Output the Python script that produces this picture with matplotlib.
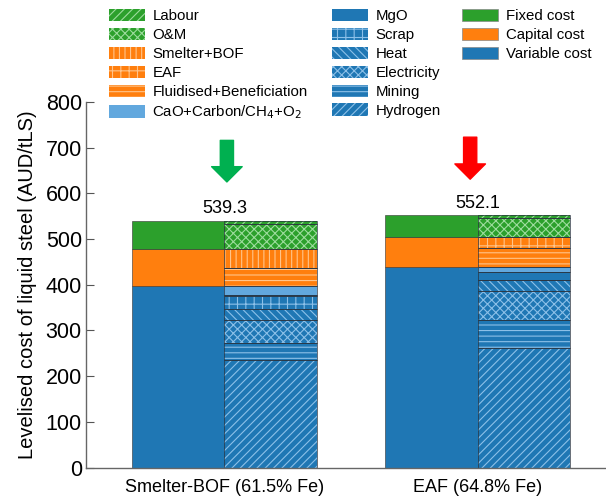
import matplotlib
matplotlib.use("Agg")
import matplotlib.pyplot as plt
from matplotlib.patches import Patch
import numpy as np

plt.rcParams['font.family'] = ['Liberation Sans', 'DejaVu Sans']
plt.rcParams['hatch.linewidth'] = 0.8

# ── Data ──
categories = ['Smelter-BOF (61.5% Fe)', 'EAF (64.8% Fe)']
totals = [539.3, 552.1]

# summary bar (left half of each group)
variable_cost = [397.0, 439.5]
capital_cost = [81.0, 64.0]
fixed_cost = [61.3, 48.6]

# breakdown bar (right half), bottom -> top
hydrogen = [235.0, 261.0]
mining = [37.0, 62.0]
electricity = [50.0, 62.5]
heat = [25.0, 24.0]
scrap = [28.0, 0.0]
mgo = [2.0, 19.0]
cao = [20.0, 11.0]
fluidised = [39.0, 40.0]
eaf = [0.0, 24.0]
smelter_bof = [42.0, 0.0]
om = [54.0, 42.0]
labour = [7.3, 6.6]

# arrows above each group: (x offset, tip, tail, colour)
arrows = [(0.01, 625, 716, '#00b050'), (-0.03, 631, 723, '#ff0000')]

# ── Styles ──
BLUE, ORANGE, GREEN, LBLUE = '#1f77b4', '#ff7f0e', '#2ca02c', '#62a8de'
HB, HO, HG = '#8cc0e8', '#ffc48a', '#9ddc9d'   # hatch colours

summary = [
    ('Variable cost', variable_cost, BLUE),
    ('Capital cost', capital_cost, ORANGE),
    ('Fixed cost', fixed_cost, GREEN),
]
breakdown = [
    ('Hydrogen', hydrogen, BLUE, '////', HB),
    ('Mining', mining, BLUE, '---', HB),
    ('Electricity', electricity, BLUE, 'xxxx', HB),
    ('Heat', heat, BLUE, '\\\\\\\\', HB),
    ('Scrap', scrap, BLUE, '++', HB),
    ('MgO', mgo, BLUE, '', HB),
    ('CaO+Carbon/CH$_4$+O$_2$', cao, LBLUE, '', HB),
    ('Fluidised+Beneficiation', fluidised, ORANGE, '---', HO),
    ('EAF', eaf, ORANGE, '++', HO),
    ('Smelter+BOF', smelter_bof, ORANGE, '|||', HO),
    ('O&M', om, GREEN, 'xxxx', HG),
    ('Labour', labour, GREEN, '////', HG),
]

fig = plt.figure(figsize=(6.06, 4.99), dpi=100)
ax = fig.add_axes([86 / 606, 1 - 467.5 / 499, 520 / 606, 365.5 / 499])

x = np.arange(len(categories))
w = 0.365

# summary bars
bottom = np.zeros(len(x))
for name, vals, col in summary:
    ax.bar(x - w / 2, vals, w, bottom=bottom, color=col,
           edgecolor='#333333', linewidth=0.4)
    bottom += np.array(vals)

# breakdown bars: hatched fill first, then thin dark outline
bottom = np.zeros(len(x))
for name, vals, col, hatch, hcol in breakdown:
    ax.bar(x + w / 2, vals, w, bottom=bottom, color=col, hatch=hatch,
           edgecolor=hcol, linewidth=0)
    ax.bar(x + w / 2, vals, w, bottom=bottom, fill=False,
           edgecolor='#2a3440', linewidth=0.5)
    bottom += np.array(vals)

# total labels
for xi, t in zip(x, totals):
    ax.text(xi, t + 8, f'{t:.1f}', ha='center', va='bottom', fontsize=13)

# arrows
arrow_style = 'simple,head_length=1.1,head_width=2.2,tail_width=0.95'
for xi, (dx, tip, tail, col) in zip(x, arrows):
    ax.annotate('', xy=(xi + dx, tip), xytext=(xi + dx, tail),
                arrowprops=dict(arrowstyle=arrow_style, color=col,
                                shrinkA=0, shrinkB=0, mutation_scale=10))

ax.set_xlim(-0.546, 1.506)
ax.set_ylim(0, 800)
ax.set_yticks(np.arange(0, 801, 100))
ax.set_xticks(x)
ax.set_xticklabels(categories, fontsize=13)
ax.tick_params(axis='x', length=0, pad=8)
ax.tick_params(axis='y', direction='in', length=6, labelsize=15.5, pad=3,
               color='#555555')
ax.set_ylabel('Levelised cost of liquid steel (AUD/tLS)', fontsize=14.5, labelpad=6)

for s in ['top', 'right']:
    ax.spines[s].set_visible(False)
for s in ['left', 'bottom']:
    ax.spines[s].set_color('#666666')
    ax.spines[s].set_linewidth(1.0)

# legends (three columns)
def handle(col, hatch, hcol):
    return Patch(facecolor=col, hatch=hatch, edgecolor=hcol, linewidth=0)

col1 = breakdown[6:][::-1]
col2 = breakdown[:6][::-1]
leg_kw = dict(frameon=False, fontsize=10.8, handlelength=2.4, handleheight=0.9,
              handletextpad=0.5, labelspacing=0.3, borderpad=0, borderaxespad=0,
              loc='upper left')
for items, xpos in [(col1, 109), (col2, 332)]:
    fig.legend([handle(c, h, hc) for _, _, c, h, hc in items],
               [n for n, *_ in items],
               bbox_to_anchor=(xpos / 606, 1 - 9 / 499), **leg_kw)
col3 = summary[::-1]
fig.legend([Patch(facecolor=c, edgecolor='#888888', linewidth=0.5) for _, _, c in col3],
           [n for n, *_ in col3],
           bbox_to_anchor=(462 / 606, 1 - 9 / 499), **leg_kw)

fig.savefig('out.png', dpi=100)
